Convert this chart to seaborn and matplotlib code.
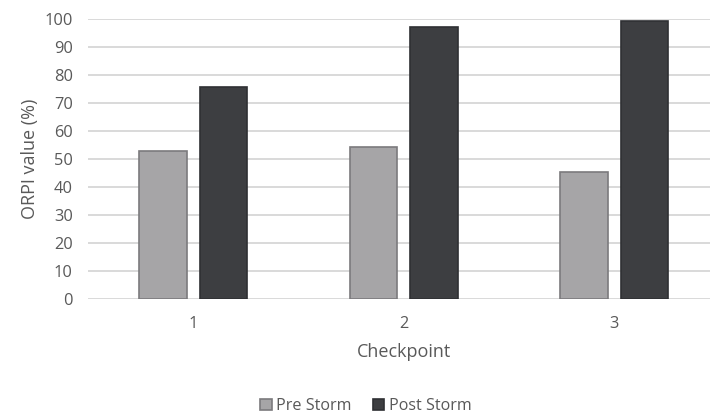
import matplotlib
matplotlib.use("Agg")
import matplotlib.pyplot as plt
import seaborn as sns
import pandas as pd

# values
checkpoints = ["1", "2", "3"]
pre_storm = [52.7, 54.3, 45.2]
post_storm = [75.7, 97.0, 99.4]
series_names = ["Pre Storm", "Post Storm"]
y_ticks = list(range(0, 101, 10))

df = pd.DataFrame({
    "Checkpoint": checkpoints * 2,
    "value": pre_storm + post_storm,
    "Period": [series_names[0]] * 3 + [series_names[1]] * 3,
})

sns.set_theme(style="white")
plt.rcParams["font.family"] = ["Open Sans", "DejaVu Sans"]

text_col = "#595959"
fill_cols = {"Pre Storm": "#a6a5a7", "Post Storm": "#3d3e41"}
edge_cols = ["#7b7a7d", "#2f3033"]

fig = plt.figure(figsize=(7.1, 4.18), dpi=100)
# axes run a bit past the right edge, like the cropped original
ax = fig.add_axes([88 / 710, 1 - 299 / 418, 631.6 / 710, 280 / 418])

sns.barplot(data=df, x="Checkpoint", y="value", hue="Period",
            palette=fill_cols, width=0.572, gap=0.21, ax=ax,
            legend=False, saturation=1)

for cont, ec in zip(ax.containers, edge_cols):
    for bar in cont:
        bar.set_edgecolor(ec)
        bar.set_linewidth(1.2)

ax.set_ylim(0, 100)
ax.set_yticks(y_ticks)
ax.set_xlim(-0.5, 2.5)
ax.set_axisbelow(True)
ax.yaxis.grid(True, color="#d9d9d9", linewidth=1.4)
ax.xaxis.grid(False)
for s in ax.spines.values():
    s.set_visible(False)

ax.tick_params(axis="y", length=0, pad=11, labelsize=11.8, labelcolor=text_col)
ax.tick_params(axis="x", length=0, pad=12, labelsize=11.8, labelcolor=text_col)
ax.set_ylabel("ORPI value (%)", fontsize=13, color=text_col, labelpad=4)
ax.set_xlabel("Checkpoint", fontsize=13, color=text_col, labelpad=8)

handles = [ax.containers[0][0], ax.containers[1][0]]
fig.legend(handles, series_names, loc="center",
           bbox_to_anchor=(366 / 710, 1 - 406 / 418), ncol=2, frameon=False,
           fontsize=11.6, labelcolor=text_col, handlelength=0.7,
           handleheight=0.7, handletextpad=0.3, columnspacing=1.3)

fig.savefig("out.png", dpi=100)
